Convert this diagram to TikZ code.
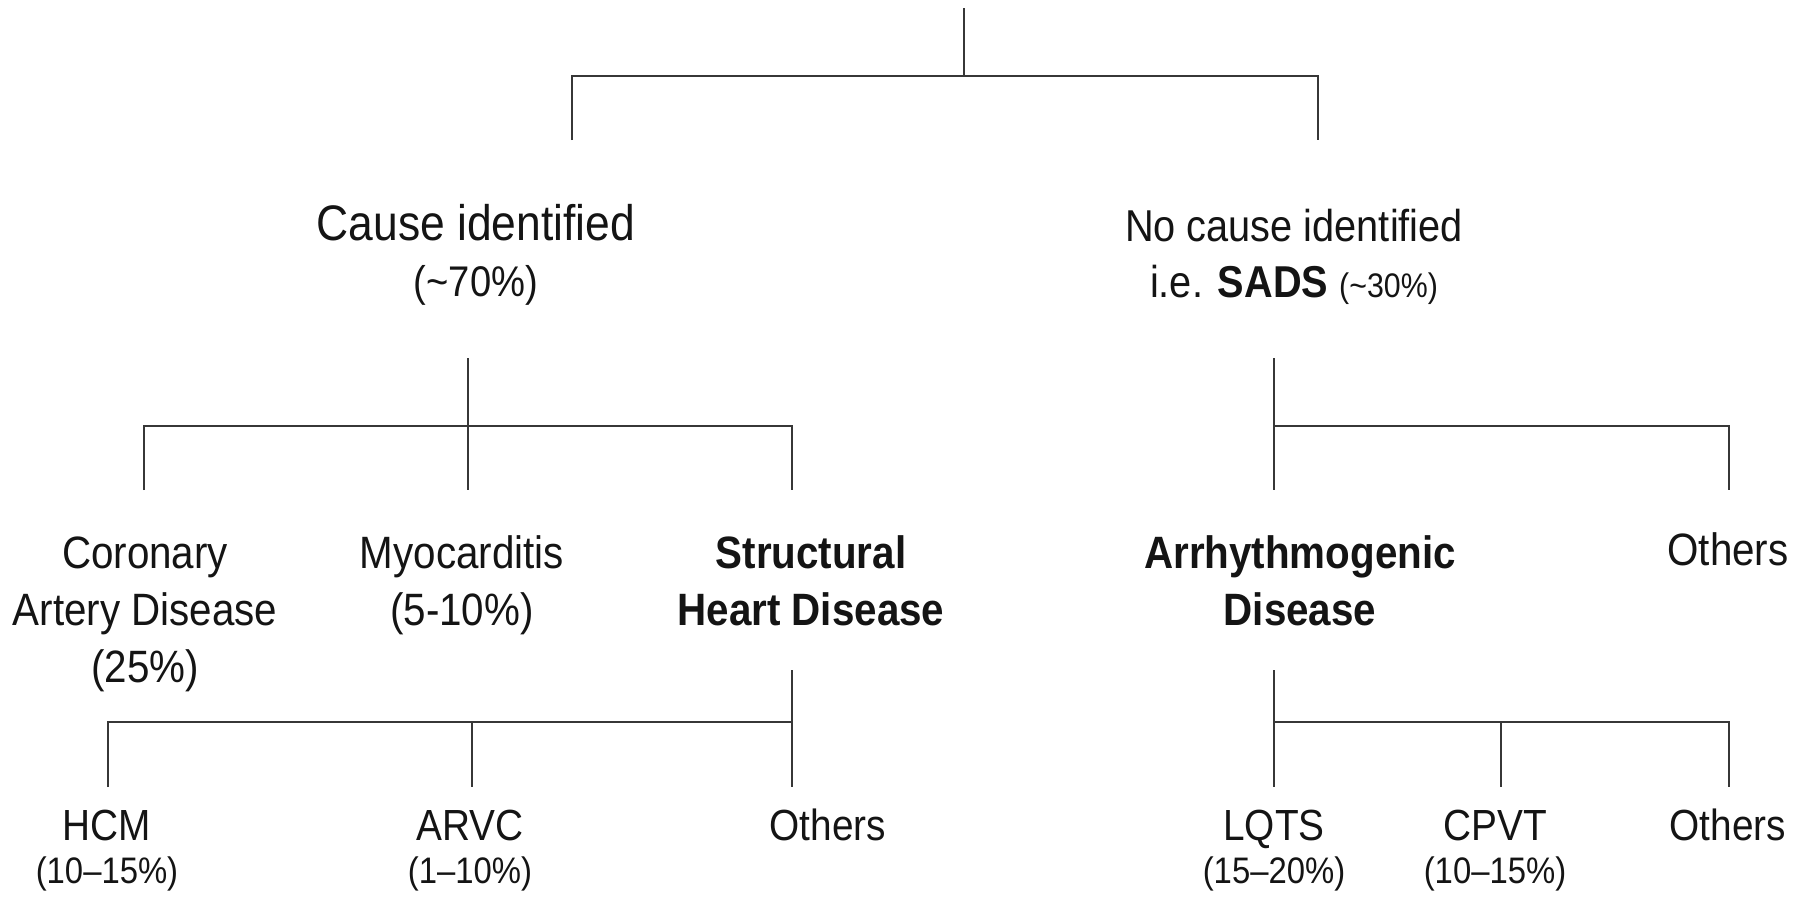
\documentclass[tikz,border=0pt]{standalone}
\usepackage{fontspec}
\setmainfont{Liberation Sans}[FakeStretch=0.89]
\usetikzlibrary{positioning}
\definecolor{ink}{RGB}{20,20,20}
\definecolor{twig}{RGB}{55,55,55}
\tikzset{
  branch/.style={draw=twig,line width=0.7pt},
  lvlA/.style={font=\fontsize{#1}{15.9}\selectfont,text=ink,align=center,inner sep=0pt,anchor=base},
  lvlA/.default=14.2,
  lvlB/.style={font=\fontsize{12.9}{16.2}\selectfont,text=ink,align=center,inner sep=0pt,anchor=base},
  lvlC/.style={font=\fontsize{12.4}{12.2}\selectfont,text=ink,align=center,inner sep=0pt,anchor=base},
}
% smaller share in brackets
\newcommand\pct[2]{{\fontsize{#1}{#1}\selectfont(#2\%)}}

\begin{document}
\begin{tikzpicture}[x=0.1mm,y=-0.1mm]
  \useasboundingbox (0,0) rectangle (1808,897);
  % first split (base = last line)
  \node[lvlA] (cause) at (476,296) {Cause identified\\\pct{12.2}{\textasciitilde70}};
  \node[lvlA=12.7] (nocause) at (1294,297) {No cause identified\\i.e. \textbf{SADS} \pct{9.7}{\textasciitilde30}};
  % second split
  \node[lvlB] (cad) at (145,682) {Coronary\\Artery Disease\\(25\%)};
  \node[lvlB] (myo) at (462,625) {Myocarditis\\(5-10\%)};
  \node[lvlB,font=\fontsize{12.9}{16.2}\selectfont\bfseries] (shd) at (811,625) {Structural\\Heart Disease};
  \node[lvlB,font=\fontsize{12.9}{16.2}\selectfont\bfseries] (arr) at (1300,625) {Arrhythmogenic\\Disease};
  \node[lvlB] (othA) at (1728,565) {Others};
  % third split
  \node[lvlC] (hcm) at (107,883) {HCM\\\pct{10.5}{10--15}};
  \node[lvlC] (arvc) at (470,883) {ARVC\\\pct{10.5}{1--10}};
  \node[lvlC] (othB) at (828,840) {Others};
  \node[lvlC] (lqts) at (1274,883) {LQTS\\\pct{10.5}{15--20}};
  \node[lvlC] (cpvt) at (1495,883) {CPVT\\\pct{10.5}{10--15}};
  \node[lvlC] (othC) at (1728,840) {Others};

  % junction points
  \coordinate (root) at (964,8);
  \coordinate (rootj) at (964,76);
  \coordinate (causetop) at (572,140);
  \coordinate (nocausetop) at (1318,140);
  \coordinate (causebot) at (468,358);
  \coordinate (causej) at (468,426);
  \coordinate (cadtop) at (144,490);
  \coordinate (myotop) at (468,490);
  \coordinate (shdtop) at (792,490);
  \coordinate (nocausebot) at (1274,358);
  \coordinate (nocausej) at (1274,426);
  \coordinate (arrtop) at (1274,490);
  \coordinate (othAtop) at (1729,490);
  \coordinate (shdbot) at (792,670);
  \coordinate (shdj) at (792,722);
  \coordinate (hcmtop) at (108,787);
  \coordinate (arvcj) at (472,722);
  \coordinate (arvctop) at (472,787);
  \coordinate (othBtop) at (792,787);
  \coordinate (arrbot) at (1274,670);
  \coordinate (arrj) at (1274,722);
  \coordinate (lqtstop) at (1274,787);
  \coordinate (cpvtj) at (1501,722);
  \coordinate (cpvttop) at (1501,787);
  \coordinate (othCtop) at (1729,787);

  % brackets
  \draw[branch] (root) -- (rootj);
  \draw[branch] (causetop) |- (rootj) -| (nocausetop);
  \draw[branch] (causebot) -- (myotop);
  \draw[branch] (cadtop) |- (causej) -| (shdtop);
  \draw[branch] (nocausebot) -- (arrtop);
  \draw[branch] (nocausej) -| (othAtop);
  \draw[branch] (shdbot) -- (othBtop);
  \draw[branch] (hcmtop) |- (shdj);
  \draw[branch] (arvcj) -- (arvctop);
  \draw[branch] (arrbot) -- (lqtstop);
  \draw[branch] (arrj) -| (othCtop);
  \draw[branch] (cpvtj) -- (cpvttop);
\end{tikzpicture}
\end{document}
